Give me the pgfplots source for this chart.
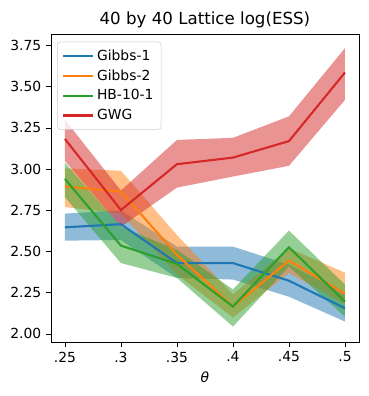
\documentclass[border=0pt]{standalone}
\usepackage{fontspec}
\setmainfont{DejaVu Sans}
\usepackage{pgfplots}
\usepackage{pgfplotstable}
\pgfplotsset{compat=1.18}
\usepgfplotslibrary{fillbetween}

\definecolor{tabblue}{HTML}{1F77B4}
\definecolor{taborange}{HTML}{FF7F0E}
\definecolor{tabgreen}{HTML}{2CA02C}
\definecolor{tabred}{HTML}{D62728}

% theta mean lo hi
\pgfplotstableread{
x mean lo hi
0.25 2.647 2.566 2.73
0.30 2.666 2.57 2.75
0.35 2.43 2.34 2.53
0.40 2.43 2.33 2.53
0.45 2.323 2.226 2.42
0.50 2.156 2.075 2.25
}\gibbsone
\pgfplotstableread{
x mean lo hi
0.25 2.894 2.77 3.005
0.30 2.864 2.73 2.99
0.35 2.48 2.36 2.60
0.40 2.166 2.10 2.24
0.45 2.445 2.37 2.52
0.50 2.243 2.18 2.372
}\gibbstwo
\pgfplotstableread{
x mean lo hi
0.25 2.94 2.83 3.04
0.30 2.536 2.43 2.65
0.35 2.425 2.34 2.51
0.40 2.166 2.045 2.27
0.45 2.526 2.41 2.627
0.50 2.196 2.105 2.30
}\hbten
\pgfplotstableread{
x mean lo hi
0.25 3.183 3.05 3.30
0.30 2.752 2.65 2.87
0.35 3.03 2.888 3.177
0.40 3.07 2.955 3.19
0.45 3.17 3.02 3.32
0.50 3.586 3.42 3.734
}\gwg

\begin{document}
\begin{tikzpicture}
\begin{axis}[
  scale only axis,
  width=222pt, height=222pt,
  xmin=0.2375, xmax=0.5125,
  ymin=1.951, ymax=3.82,
  xtick={0.25,0.3,0.35,0.4,0.45,0.5},
  xticklabels={.25,.3,.35,.4,.45,.5},
  ytick={2,2.25,2.5,2.75,3,3.25,3.5,3.75},
  yticklabel style={/pgf/number format/fixed,/pgf/number format/fixed zerofill,/pgf/number format/precision=2},
  /pgf/number format/assume math mode=true,
  tick align=outside, major tick length=3.5pt,
  tick style={black, line width=0.6pt},
  xtick pos=bottom, ytick pos=left,
  ticklabel style={font=\fontsize{10}{12}\selectfont},
  axis line style={line width=0.6pt},
  title={40 by 40 Lattice log(ESS)},
  title style={font=\fontsize{12}{14}\selectfont, yshift=-5.5pt},
  xlabel={\textit{θ}},
  xlabel style={font=\fontsize{10}{12}\selectfont},
  legend pos=north west,
  legend style={font=\fontsize{10}{12}\selectfont, draw=black!20, rounded corners=2pt,
    fill=white, fill opacity=0.8, text opacity=1, draw opacity=1, row sep=1.3pt, inner sep=3.5pt,
    at={(0.02,0.975)}},
  legend cell align=left,
  legend image code/.code={\draw[#1] (0pt,0pt) -- (21.6pt,0pt);},
  every axis plot post/.append style={line width=1.5pt},
]
\addplot[name path=b1, draw=none, forget plot] table[x=x,y=hi] {\gibbsone};
\addplot[name path=b2, draw=none, forget plot] table[x=x,y=lo] {\gibbsone};
\addplot[tabblue, fill opacity=0.5, forget plot] fill between[of=b1 and b2];
\addplot[name path=o1, draw=none, forget plot] table[x=x,y=hi] {\gibbstwo};
\addplot[name path=o2, draw=none, forget plot] table[x=x,y=lo] {\gibbstwo};
\addplot[taborange, fill opacity=0.5, forget plot] fill between[of=o1 and o2];
\addplot[name path=g1, draw=none, forget plot] table[x=x,y=hi] {\hbten};
\addplot[name path=g2, draw=none, forget plot] table[x=x,y=lo] {\hbten};
\addplot[tabgreen, fill opacity=0.5, forget plot] fill between[of=g1 and g2];
\addplot[name path=r1, draw=none, forget plot] table[x=x,y=hi] {\gwg};
\addplot[name path=r2, draw=none, forget plot] table[x=x,y=lo] {\gwg};
\addplot[tabred, fill opacity=0.5, forget plot] fill between[of=r1 and r2];

\addplot[tabblue, mark=none] table[x=x,y=mean] {\gibbsone};
\addlegendentry{Gibbs-1}
\addplot[taborange, mark=none] table[x=x,y=mean] {\gibbstwo};
\addlegendentry{Gibbs-2}
\addplot[tabgreen, mark=none] table[x=x,y=mean] {\hbten};
\addlegendentry{HB-10-1}
\addplot[tabred, mark=none] table[x=x,y=mean] {\gwg};
\addlegendentry{GWG}
\end{axis}
\pgfresetboundingbox
\path (current axis.south west) ++(-36.7pt,-38.9pt) coordinate (bl);
\path (current axis.north east) ++(7.2pt,24.5pt) coordinate (tr);
\path (bl) rectangle (tr);
\end{tikzpicture}
\end{document}
